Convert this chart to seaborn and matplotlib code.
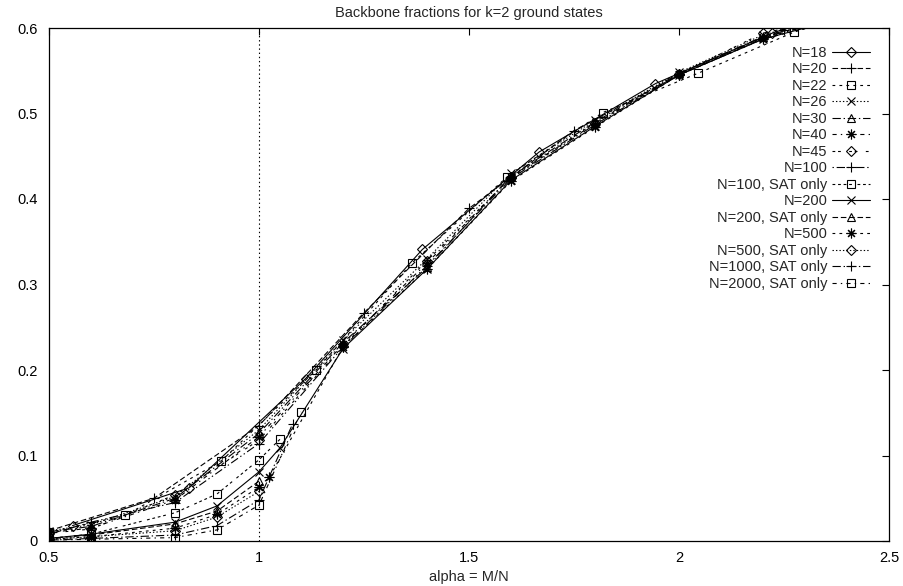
import matplotlib
matplotlib.use("Agg")
import matplotlib.pyplot as plt
import seaborn as sns
import pandas as pd

# ---- data: backbone fraction vs alpha = M/N ----
labels = ["N=18", "N=20", "N=22", "N=26", "N=30", "N=40", "N=45", "N=100",
          "N=100, SAT only", "N=200", "N=200, SAT only", "N=500",
          "N=500, SAT only", "N=1000, SAT only", "N=2000, SAT only"]

x_n18 = [0.556, 0.833, 1.111, 1.389, 1.667, 1.944, 2.222, 2.5]
y_n18 = [0.018, 0.062, 0.190, 0.341, 0.455, 0.535, 0.594, 0.640]

x_n20 = [0.5, 0.75, 1.0, 1.25, 1.5, 1.75, 2.0, 2.25, 2.5]
y_n20 = [0.012, 0.050, 0.135, 0.267, 0.389, 0.480, 0.545, 0.598, 0.640]

x_n22 = [0.5, 0.682, 0.909, 1.136, 1.364, 1.591, 1.818, 2.045, 2.273, 2.5]
y_n22 = [0.010, 0.030, 0.093, 0.200, 0.325, 0.426, 0.501, 0.547, 0.595, 0.630]

x_grid = [0.5, 0.6, 0.8, 1.0, 1.2, 1.4, 1.6, 1.8, 2.0, 2.2, 2.4]
y_n26 = [0.012, 0.019, 0.052, 0.130, 0.235, 0.330, 0.430, 0.492, 0.548, 0.592, 0.618]
y_n30 = [0.011, 0.017, 0.050, 0.126, 0.232, 0.320, 0.427, 0.490, 0.547, 0.590, 0.616]
y_n40 = [0.010, 0.015, 0.048, 0.122, 0.230, 0.325, 0.426, 0.488, 0.546, 0.588, 0.615]
y_n45 = [0.009, 0.014, 0.054, 0.118, 0.228, 0.328, 0.425, 0.489, 0.546, 0.594, 0.615]
y_n100 = [0.008, 0.022, 0.045, 0.114, 0.227, 0.322, 0.424, 0.487, 0.545, 0.589, 0.614]

x_n100s = [0.5, 0.6, 0.8, 0.9, 1.0, 1.05]
y_n100s = [0.003, 0.008, 0.033, 0.055, 0.095, 0.119]

x_n200 = [0.5, 0.6, 0.8, 0.9, 1.0, 1.05, 1.2, 1.4, 1.6, 1.8, 2.0, 2.2, 2.4]
y_n200 = [0.003, 0.008, 0.022, 0.041, 0.081, 0.109, 0.225, 0.318, 0.422, 0.485, 0.545, 0.587, 0.613]

x_n200s = [0.5, 0.6, 0.8, 0.9, 1.0]
y_n200s = [0.003, 0.007, 0.020, 0.035, 0.070]

x_n500 = [0.5, 0.6, 0.8, 0.9, 1.0, 1.025, 1.2, 1.4, 1.6, 1.8, 2.0, 2.2, 2.4]
y_n500 = [0.002, 0.005, 0.015, 0.031, 0.063, 0.075, 0.227, 0.318, 0.421, 0.484, 0.545, 0.587, 0.612]

x_n500s = [0.5, 0.6, 0.8, 0.9, 1.0]
y_n500s = [0.002, 0.005, 0.012, 0.028, 0.058]

x_n1000s = [0.5, 0.6, 0.8, 0.9, 1.0, 1.08]
y_n1000s = [0.001, 0.003, 0.007, 0.018, 0.048, 0.137]

x_n2000s = [0.5, 0.6, 0.8, 0.9, 1.0, 1.1]
y_n2000s = [0.001, 0.002, 0.004, 0.013, 0.042, 0.151]

xs = [x_n18, x_n20, x_n22, x_grid, x_grid, x_grid, x_grid, x_grid,
      x_n100s, x_n200, x_n200s, x_n500, x_n500s, x_n1000s, x_n2000s]
ys = [y_n18, y_n20, y_n22, y_n26, y_n30, y_n40, y_n45, y_n100,
      y_n100s, y_n200, y_n200s, y_n500, y_n500s, y_n1000s, y_n2000s]

x_ticks = [0.5, 1.0, 1.5, 2.0, 2.5]
x_tick_labels = ["0.5", "1", "1.5", "2", "2.5"]
y_ticks = [0.0, 0.1, 0.2, 0.3, 0.4, 0.5, 0.6]
y_tick_labels = ["0", "0.1", "0.2", "0.3", "0.4", "0.5", "0.6"]

# ---- style ----
sns.set_theme(style="white")
plt.rcParams["font.family"] = ["Liberation Sans", "DejaVu Sans"]
plt.rcParams["lines.scale_dashes"] = False

line_dashes = [None, (4, 2), (2, 3), (1, 1.5), (6, 2, 1, 2), (3, 3, 1, 3),
               (2, 2, 2, 6), (1, 2, 6, 2, 1, 2), (2, 2, 2, 2, 2, 2, 2, 4)]
point_types = ["D", "+", "s", "x", "^", (8, 2, 0)]
point_sizes = {"D": 5.5, "+": 7, "s": 6, "x": 6, "^": 6}

fig = plt.figure(figsize=(9.04, 5.86), dpi=100)
ax = fig.add_axes([49 / 904, 45 / 586, 840 / 904, 513 / 586])

for i, (lab, xv, yv) in enumerate(zip(labels, xs, ys)):
    df = pd.DataFrame({"alpha": xv, "backbone": yv})
    mk = point_types[i % 6]
    ms = point_sizes.get(mk, 7) if isinstance(mk, str) else 7
    sns.lineplot(data=df, x="alpha", y="backbone", ax=ax, color="black",
                 sort=False, estimator=None, label=lab, lw=0.8,
                 marker=mk, markersize=ms, mfc="none", mec="black", mew=0.8)
    line = ax.lines[-1]
    d = line_dashes[i % 9]
    if d is None:
        line.set_linestyle("-")
    else:
        line.set_dashes(d)

ax.axvline(1.0, color="black", lw=0.8, linestyle=(0, (1, 2)))

ax.set_xlim(0.5, 2.5)
ax.set_ylim(0.0, 0.6)
ax.set_xticks(x_ticks)
ax.set_xticklabels(x_tick_labels)
ax.set_yticks(y_ticks)
ax.set_yticklabels(y_tick_labels)
ax.set_xlabel("")
ax.set_ylabel("")
ax.tick_params(direction="in", length=5, width=0.8, top=True, right=True,
               labelsize=10.5, colors="black")
ax.tick_params(axis="x", pad=7.5)
ax.tick_params(axis="y", pad=8)
for sp in ax.spines.values():
    sp.set_color("black")
    sp.set_linewidth(0.9)

fig.text(469 / 904, 1 - 13 / 586, "Backbone fractions for k=2 ground states",
         ha="center", va="center", fontsize=10.5)
fig.text(469 / 904, 1 - 577 / 586, "alpha = M/N", ha="center", va="center",
         fontsize=10.5)

leg = ax.legend(loc="upper right", bbox_to_anchor=(870 / 904, 1 - 46 / 586),
                bbox_transform=fig.transFigure, frameon=False,
                markerfirst=False, fontsize=10.5, handlelength=2.6,
                handletextpad=0.3, labelspacing=0.17, borderpad=0,
                borderaxespad=0)
for t in leg.get_texts():
    t.set_ha("right")
leg._legend_box.align = "right"

fig.savefig("out.png", dpi=100)
